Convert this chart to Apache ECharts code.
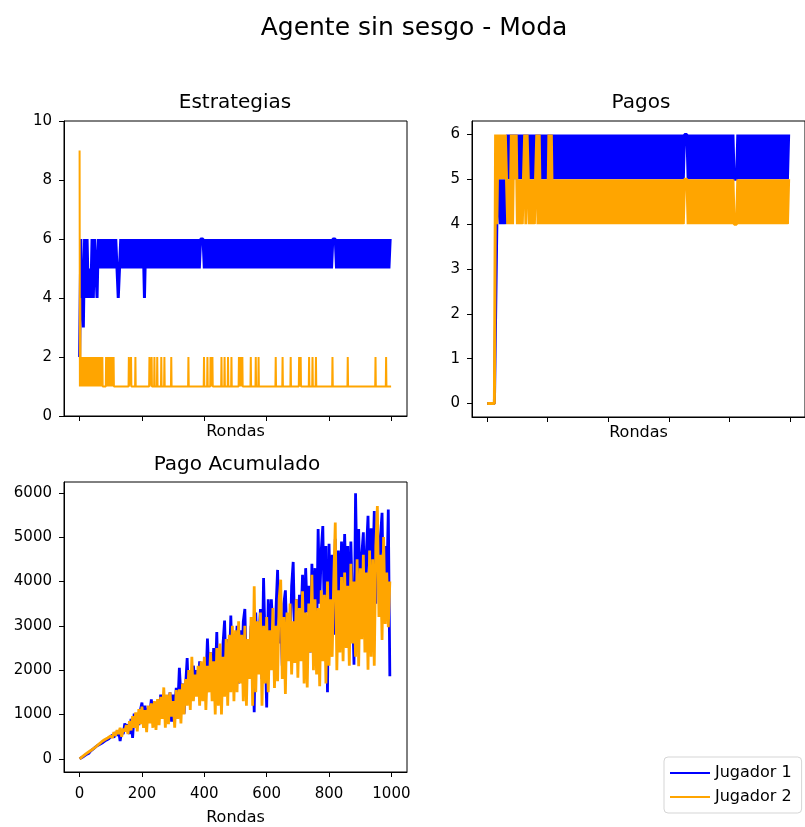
<!DOCTYPE html>
<html>
<head>
<meta charset="utf-8">
<script src="https://cdn.jsdelivr.net/npm/echarts@6.0.0/dist/echarts.min.js"></script>
<style>html,body{margin:0;padding:0;background:#fff}#c{width:805px;height:827px}</style>
</head>
<body>
<div id="c"></div>
<script>
// ---------- data ----------
const jugadores = ['Jugador 1', 'Jugador 2'];
const ticksRondas = [0, 200, 400, 600, 800, 1000];
const ticksEstr = [0, 2, 4, 6, 8, 10];
const ticksPagos = [0, 1, 2, 3, 4, 5, 6];
const ticksAcum = [0, 1000, 2000, 3000, 4000, 5000, 6000];

// rounds sampled every 4 (strategies / payoffs) and every 5 (accumulated)
const rondas4 = Array.from({length: 250}, (_, i) => i * 4);
const rondas5 = Array.from({length: 200}, (_, i) => i * 5);

// Estrategias - Jugador 1 (one value per 4 rounds)
const estJ1 = [
2,6,4,3,6,4,6,4,5,4, 6,4,6,5,4,6,5,6,5,6, 5,6,5,6,5,6,5,6,5,6, 5,4,5,6,5,6,5,6,5,6,
5,6,5,6,5,6,5,6,5,6, 5,6,4,6,5,6,5,6,5,6, 5,6,5,6,5,6,5,6,5,6, 5,6,5,6,5,6,5,6,5,6,
5,6,5,6,5,6,5,6,5,6, 5,6,5,6,5,6,5,6,6,6, 5,6,5,6,5,6,5,6,5,6, 5,6,5,6,5,6,5,6,5,6,
5,6,5,6,5,6,5,6,5,6, 5,6,5,6,5,6,5,6,5,6, 5,6,5,6,5,6,5,6,5,6, 5,6,5,6,5,6,5,6,5,6,
5,6,5,6,5,6,5,6,5,6, 5,6,5,6,5,6,5,6,5,6, 5,6,5,6,5,6,5,6,5,6, 5,6,5,6,5,6,5,6,5,6,
5,6,5,6,6,6,5,6,5,6, 5,6,5,6,5,6,5,6,5,6, 5,6,5,6,5,6,5,6,5,6, 5,6,5,6,5,6,5,6,5,6,
5,6,5,6,5,6,5,6,5,6
];

// Estrategias - Jugador 2 : [ronda, estrategia]
const estJ2 = [
[0,9],[1,1],[2,4],[3,2],[4,1],[5,2],[7,1],[8,2],[10,1],[11,2],[12,1],[14,2],[15,1],[17,2],[19,1],[20,2],
[22,1],[23,2],[25,1],[26,2],[28,1],[30,2],[31,1],[33,2],[35,1],[36,2],[38,1],[40,2],[41,1],[43,2],[45,1],
[47,2],[48,1],[49,2],[50,1],[52,1],[53,2],[55,1],[57,2],[58,1],[61,2],[63,1],[65,2],[66,1],[69,2],[71,1],
[73,2],[74,1],[84,1],[85,2],[87,1],[89,2],[90,1],[93,2],[94,1],[97,2],[99,1],[101,2],[102,1],[105,2],
[107,1],[109,2],[110,1],
[157,1],[158,2],[159,1],[164,1],[165,2],[166,1],[178,1],[179,2],[180,1],[223,1],[224,2],[225,1],
[230,1],[231,2],[232,1],[239,1],[240,2],[241,1],[248,1],[249,2],[250,1],[261,1],[262,2],[263,1],
[271,1],[272,2],[273,1],[293,1],[294,2],[295,1],[348,1],[349,2],[350,1],[398,1],[399,2],[400,1],
[409,1],[410,2],[411,1],[419,1],[420,2],[421,1],[425,1],[426,2],[427,1],[454,1],[455,2],[456,1],
[464,1],[465,2],[466,1],[475,1],[476,2],[477,1],[486,1],[487,2],[488,1],[510,1],[511,2],[512,1],
[513,1],[514,2],[515,1],[518,1],[519,2],[520,1],[521,1],[522,2],[523,1],[548,1],[549,2],[550,1],
[564,1],[565,2],[566,1],[573,1],[574,2],[575,1],[628,1],[629,2],[630,1],[650,1],[651,2],[652,1],
[676,1],[677,2],[678,1],[703,1],[704,2],[705,1],[708,1],[709,2],[710,1],[735,1],[736,2],[737,1],
[746,1],[747,2],[748,1],[757,1],[758,2],[759,1],[810,1],[811,2],[812,1],[859,1],[860,2],[861,1],
[948,1],[949,2],[950,1],[982,1],[983,2],[984,1],[999,1]
];

// Pagos - Jugador 1 (one value per 4 rounds)
const pagoJ1 = [
0,0,0,0,0,0,0,0,4,4, 5,4,5,4,5,4,5,6,5,6, 5,6,5,6,5,6,5,6,5,6, 5,6,5,6,5,6,5,6,5,6,
5,6,5,6,5,6,5,6,5,6, 5,6,5,6,5,6,5,6,5,6, 5,6,5,6,5,6,5,6,5,6, 5,6,5,6,5,6,5,6,5,6,
5,6,5,6,5,6,5,6,5,6, 5,6,5,6,5,6,5,6,5,6, 5,6,5,6,5,6,5,6,5,6, 5,6,5,6,5,6,5,6,5,6,
5,6,5,6,5,6,5,6,5,6, 5,6,5,6,5,6,5,6,5,6, 5,6,5,6,5,6,5,6,5,6, 5,6,5,6,5,6,5,6,5,6,
5,6,5,6,6,6,5,6,5,6, 5,6,5,6,5,6,5,6,5,6, 5,6,5,6,5,6,5,6,5,6, 5,6,5,6,5,6,5,6,5,6,
5,6,5,6,5,5,5,6,5,6, 5,6,5,6,5,6,5,6,5,6, 5,6,5,6,5,6,5,6,5,6, 5,6,5,6,5,6,5,6,5,6,
5,6,5,6,5,6,5,6,5,6
];

// Pagos - Jugador 2 (one value per 4 rounds)
const pagoJ2 = [
0,0,0,0,0,0,0,6,4,6, 5,6,5,6,5,6,5,4,5,4, 6,4,6,5,6,4,5,4,5,4, 5,6,4,6,5,4,5,4,5,4,
5,6,4,6,4,5,4,5,4,5, 4,6,4,6,4,5,4,5,4,5, 4,5,4,5,4,5,4,5,4,5, 4,5,4,5,4,5,4,5,4,5,
4,5,4,5,4,5,4,5,4,5, 4,5,4,5,4,5,4,5,4,5, 4,5,4,5,4,5,4,5,4,5, 4,5,4,5,4,5,4,5,4,5,
4,5,4,5,4,5,4,5,4,5, 4,5,4,5,4,5,4,5,4,5, 4,5,4,5,4,5,4,5,4,5, 4,5,4,5,4,5,4,5,4,5,
4,5,4,5,5,5,4,5,4,5, 4,5,4,5,4,5,4,5,4,5, 4,5,4,5,4,5,4,5,4,5, 4,5,4,5,4,5,4,5,4,5,
4,5,4,5,4,4,4,5,4,5, 4,5,4,5,4,5,4,5,4,5, 4,5,4,5,4,5,4,5,4,5, 4,5,4,5,4,5,4,5,4,5,
4,5,4,5,4,5,4,5,4,5
];

// Pago Acumulado - Jugador 1 (one value per 5 rounds)
const acumJ1 = [
0,25,40,80,90,130,125,175,180,230,
240,290,260,330,300,370,340,420,380,460,
430,540,480,600,520,640,400,620,560,800,
620,780,560,900,470,1020,700,980,760,1100,
1270,860,1200,800,1150,950,1340,1000,1280,900,
1300,1000,1450,1100,1400,950,1380,1150,1500,840,
1450,1100,1600,1200,2050,1400,1700,1020,1650,2270,
1300,1900,1500,2100,1700,2000,1450,2200,1600,1530,
2000,1700,2710,1900,2400,1600,2500,1800,2860,1400,
2300,1500,2600,3120,1800,2700,2000,3230,1900,2800,
2200,3000,1700,2900,2000,3100,3380,1900,2700,2300,
3000,2500,1050,3300,2100,2700,3380,1800,4080,2600,
1160,3600,2400,3600,2900,2200,3400,4260,2600,3300,
2100,3500,3800,2700,3200,2400,3900,4440,2800,3600,
2500,3700,3100,4150,2700,4300,3300,3900,2400,4400,
3100,4300,2600,5180,3500,4700,5250,3000,4800,1500,
4850,3200,4600,2800,4960,3600,4700,3100,4900,3400,
5070,3800,4800,2900,4900,3500,2120,5990,3900,5180,
3400,4600,5110,3100,4700,5480,3600,5200,4100,5590,
3500,5300,4200,5000,5550,3300,4800,3800,5620,1860
];

// Pago Acumulado - Jugador 2 (one value per 5 rounds)
const acumJ2 = [
0,30,55,75,110,125,160,170,210,220,
260,250,320,300,380,350,430,400,470,450,
520,470,600,520,650,560,700,500,680,620,
760,560,850,640,960,700,1050,620,1120,780,
1180,700,1100,600,1200,800,1250,700,1300,650,
1350,760,1400,900,1610,700,1450,780,1500,950,
1300,700,1550,900,1570,800,1700,1000,1800,1200,
2000,1100,2300,1300,1900,1400,2100,1200,2200,1300,
2300,1100,2100,1500,2400,1300,2200,1000,2500,1200,
2600,1000,2300,1400,2700,1200,2800,1500,3000,1300,
2900,1500,3100,1700,2800,1300,3000,1200,2700,1800,
3200,1200,3890,1500,3100,1900,3300,1200,3000,1700,
3200,1500,2900,2000,3400,1600,3000,1750,3600,4040,
1800,3200,1460,3300,2200,3500,1900,3100,2160,3600,
1830,3400,2200,3780,1700,3300,1610,3500,2400,4150,
2000,3600,1900,3400,1640,3800,2200,3700,1700,4000,
2100,3600,2300,4000,5330,2000,3800,2400,4100,2200,
4200,2500,3900,2100,4400,2600,4000,2300,4500,2090,
4300,2700,4600,2400,4200,2010,4700,2300,4500,2100,
4800,5700,3200,4600,2680,5000,3040,4200,2970,4000
];

// ---------- chart ----------
const FONT = 'DejaVu Sans';
const AZUL = '#0000ff', NARANJA = '#ffa500';
const chart = echarts.init(document.getElementById('c'), null, {renderer: 'canvas'});
const plain = v => String(v);

function xAxis(gi, showLabels, gap) {
  return {
    type: 'value', gridIndex: gi, min: -50, max: 1050,
    name: 'Rondas', nameLocation: 'middle', nameGap: gap,
    nameTextStyle: {fontFamily: FONT, fontSize: 16, color: '#000'},
    axisLine: {show: true, onZero: false, lineStyle: {color: '#000', width: 1}},
    axisTick: {show: true, length: 5, customValues: ticksRondas, lineStyle: {color: '#000', width: 1}},
    axisLabel: {show: showLabels, customValues: ticksRondas, formatter: plain, fontFamily: FONT, fontSize: 15, color: '#000', margin: 15},
    splitLine: {show: false}
  };
}
function yAxis(gi, min, max, ticks) {
  return {
    type: 'value', gridIndex: gi, min: min, max: max,
    axisLine: {show: true, onZero: false, lineStyle: {color: '#000', width: 1}},
    axisTick: {show: true, length: 5, customValues: ticks, lineStyle: {color: '#000', width: 1}},
    axisLabel: {customValues: ticks, formatter: plain, fontFamily: FONT, fontSize: 15, color: '#000', margin: 12},
    splitLine: {show: false}
  };
}
function linea(name, color, xi, data, w) {
  return {
    name: name, type: 'line', xAxisIndex: xi, yAxisIndex: xi, data: data,
    showSymbol: false, symbol: 'none', sampling: null, animation: false,
    lineStyle: {color: color, width: w, join: 'bevel'}, itemStyle: {color: color}, clip: true
  };
}

const option = {
  animation: false,
  backgroundColor: '#fff',
  title: [
    {text: 'Agente sin sesgo - Moda', left: 414, top: 16, textAlign: 'center', padding: 0,
     textStyle: {fontFamily: FONT, fontSize: 25, fontWeight: 'normal', color: '#000'}},
    {text: 'Estrategias', left: 235, top: 93, textAlign: 'center', padding: 0,
     textStyle: {fontFamily: FONT, fontSize: 20, fontWeight: 'normal', color: '#000'}},
    {text: 'Pagos', left: 641, top: 93, textAlign: 'center', padding: 0,
     textStyle: {fontFamily: FONT, fontSize: 20, fontWeight: 'normal', color: '#000'}},
    {text: 'Pago Acumulado', left: 237, top: 455, textAlign: 'center', padding: 0,
     textStyle: {fontFamily: FONT, fontSize: 20, fontWeight: 'normal', color: '#000'}}
  ],
  legend: {
    data: jugadores, orient: 'vertical', left: 664, top: 757,
    icon: 'rect', itemWidth: 40, itemHeight: 2, itemGap: 8,
    padding: [8, 10, 8, 6], borderColor: '#d5d5d5', borderWidth: 1, borderRadius: 4,
    backgroundColor: '#fff',
    textStyle: {fontFamily: FONT, fontSize: 16, color: '#000'}
  },
  grid: [
    {left: 64, top: 121, width: 343, height: 295, show: true, borderColor: '#000', borderWidth: 1, containLabel: false},
    {left: 472, top: 121, width: 346, height: 296, show: true, borderColor: '#000', borderWidth: 1, containLabel: false},
    {left: 64, top: 482, width: 343, height: 296, show: true, borderColor: '#000', borderWidth: 1, containLabel: false}
  ],
  xAxis: [xAxis(0, false, 8), xAxis(1, false, 8), xAxis(2, true, 38)],
  yAxis: [yAxis(0, 0, 10, ticksEstr), yAxis(1, -0.3, 6.3, ticksPagos), yAxis(2, -297, 6243, ticksAcum)],
  series: [
    linea(jugadores[0], AZUL, 0, rondas4.map((r, i) => [r, estJ1[i]]), 3),
    linea(jugadores[1], NARANJA, 0, estJ2, 2),
    linea(jugadores[0], AZUL, 1, rondas4.map((r, i) => [r, pagoJ1[i]]), 3),
    linea(jugadores[1], NARANJA, 1, rondas4.map((r, i) => [r, pagoJ2[i]]), 3),
    linea(jugadores[0], AZUL, 2, rondas5.map((r, i) => [r, acumJ1[i]]), 2.8),
    linea(jugadores[1], NARANJA, 2, rondas5.map((r, i) => [r, acumJ2[i]]), 2.8)
  ]
};
chart.setOption(option);
</script>
</body>
</html>
